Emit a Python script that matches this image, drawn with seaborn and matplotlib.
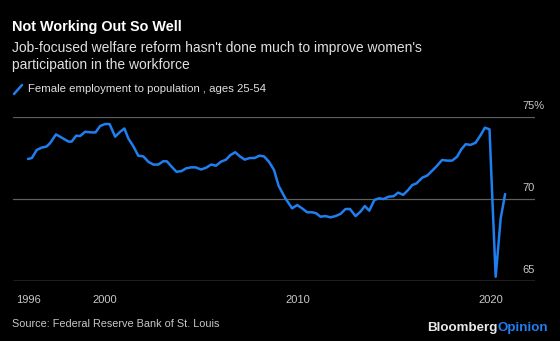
import matplotlib
matplotlib.use("Agg")
import matplotlib.pyplot as plt
from matplotlib.lines import Line2D
import seaborn as sns
import pandas as pd

# ---- data ----
years = [1996.0, 1996.2, 1996.45, 1996.7, 1996.96, 1997.14, 1997.45, 1997.75, 1998.1, 1998.26,
         1998.5, 1998.7, 1998.96, 1999.3, 1999.5, 1999.74, 2000.0, 2000.23, 2000.52, 2000.78,
         2001.0, 2001.2, 2001.47, 2001.72, 2001.98, 2002.24, 2002.5, 2002.76, 2003.01, 2003.2,
         2003.45, 2003.7, 2003.96, 2004.2, 2004.47, 2004.7, 2004.97, 2005.23, 2005.5, 2005.75,
         2006.0, 2006.27, 2006.5, 2006.75, 2006.99, 2007.24, 2007.5, 2007.76, 2008.0, 2008.24,
         2008.5, 2008.76, 2009.0, 2009.35, 2009.7, 2009.96, 2010.22, 2010.48, 2010.74, 2010.95,
         2011.17, 2011.43, 2011.69, 2011.95, 2012.21, 2012.47, 2012.7, 2012.99, 2013.25, 2013.47,
         2013.7, 2013.97, 2014.2, 2014.45, 2014.7, 2014.97, 2015.2, 2015.46, 2015.72, 2015.93,
         2016.15, 2016.45, 2016.71, 2016.97, 2017.22, 2017.48, 2017.74, 2018.0, 2018.26, 2018.48,
         2018.7, 2018.96, 2019.22, 2019.48, 2019.7, 2019.94, 2020.09, 2020.26, 2020.52, 2020.75]
values = [72.44, 72.5, 72.99, 73.13, 73.2, 73.4, 73.94, 73.74, 73.5, 73.5,
          73.86, 73.84, 74.1, 74.06, 74.06, 74.45, 74.57, 74.57, 73.8, 74.1,
          74.3, 73.7, 73.2, 72.64, 72.6, 72.27, 72.1, 72.1, 72.3, 72.3,
          71.97, 71.66, 71.7, 71.87, 71.93, 71.93, 71.8, 71.9, 72.1, 72.03,
          72.27, 72.4, 72.68, 72.85, 72.6, 72.4, 72.5, 72.5, 72.64, 72.6,
          72.27, 71.77, 70.8, 70.04, 69.43, 69.63, 69.43, 69.19, 69.19, 69.13,
          68.92, 68.96, 68.88, 68.96, 69.09, 69.39, 69.39, 68.96, 69.23, 69.57,
          69.29, 69.94, 70.04, 70.0, 70.14, 70.17, 70.39, 70.25, 70.55, 70.85,
          70.95, 71.3, 71.43, 71.73, 72.03, 72.38, 72.34, 72.34, 72.58, 73.03,
          73.34, 73.3, 73.43, 73.9, 74.35, 74.25, 69.94, 65.26, 68.82, 70.3]
x_ticks = [1996, 2000, 2010, 2020]
y_ticks = [65, 70, 75]
y_labels = ["65", "70", "75%"]

title = "Not Working Out So Well"
subtitle_lines = ["Job-focused welfare reform hasn't done much to improve women's",
                  "participation in the workforce"]
series_name = "Female employment to population , ages 25-54"
source = "Source: Federal Reserve Bank of St. Louis"

df = pd.DataFrame({"year": years, "value": values})

BG = "#000000"
BLUE = "#1f7ef0"
GRID = "#5f5f5f"
TXT = "#c8c8c8"

sns.set_style("dark")
plt.rcParams["font.family"] = ["Liberation Sans", "DejaVu Sans"]

W, H = 560, 341
fig = plt.figure(figsize=(5.6, 3.41), dpi=100, facecolor=BG)
ax = fig.add_axes([13 / W, 1 - 281 / H, (535 - 13) / W, (281 - 117) / H])
ax.set_facecolor(BG)

sns.lineplot(data=df, x="year", y="value", ax=ax, color=BLUE, linewidth=1.8)

ax.set_xlim(1995.22, 2022.3)
ax.set_ylim(65, 75)
for s in ax.spines.values():
    s.set_visible(False)
ax.set_xlabel("")
ax.set_ylabel("")
ax.grid(False)
for yv in y_ticks[1:]:
    ax.axhline(yv, color=GRID, linewidth=0.9, zorder=0)
ax.axhline(65, color="#9a9a9a", linewidth=1.0, zorder=0)

ax.set_xticks(x_ticks)
ax.set_xticklabels([str(v) for v in x_ticks])
ax.tick_params(axis="x", direction="out", length=4, width=0.9, color="#9a9a9a",
               labelcolor=TXT, labelsize=8, pad=6)
ax.set_yticks([])
for yv, lab in zip(y_ticks, y_labels):
    ax.text(2021.67, yv + 0.35, lab, color=TXT, fontsize=8, ha="left", va="bottom")

# header text
fig.text(12 / W, 1 - 27 / H, title, color="white", fontsize=10.4, fontweight="bold",
         ha="left", va="center")
fig.text(12 / W, 1 - 48 / H, subtitle_lines[0], color="#e0e0e0", fontsize=10,
         ha="left", va="center")
fig.text(12 / W, 1 - 65 / H, subtitle_lines[1], color="#e0e0e0", fontsize=10,
         ha="left", va="center")
fig.add_artist(Line2D([14 / W, 22 / W], [1 - 94 / H, 1 - 85 / H], color=BLUE,
                      linewidth=1.8, transform=fig.transFigure))
fig.text(28 / W, 1 - 89 / H, series_name, color="#e0e0e0", fontsize=8.2,
         ha="left", va="center")

# footer
fig.text(12 / W, 1 - 324 / H, source, color=TXT, fontsize=7.8, ha="left", va="center")
fig.text(498 / W, 1 - 328 / H, "Bloomberg", color="#e8e8e8", fontsize=9.6,
         fontweight="bold", ha="right", va="center")
fig.text(498 / W, 1 - 328 / H, "Opinion", color=BLUE, fontsize=9.6,
         fontweight="bold", ha="left", va="center")

fig.savefig("out.png", dpi=100, facecolor=BG)
